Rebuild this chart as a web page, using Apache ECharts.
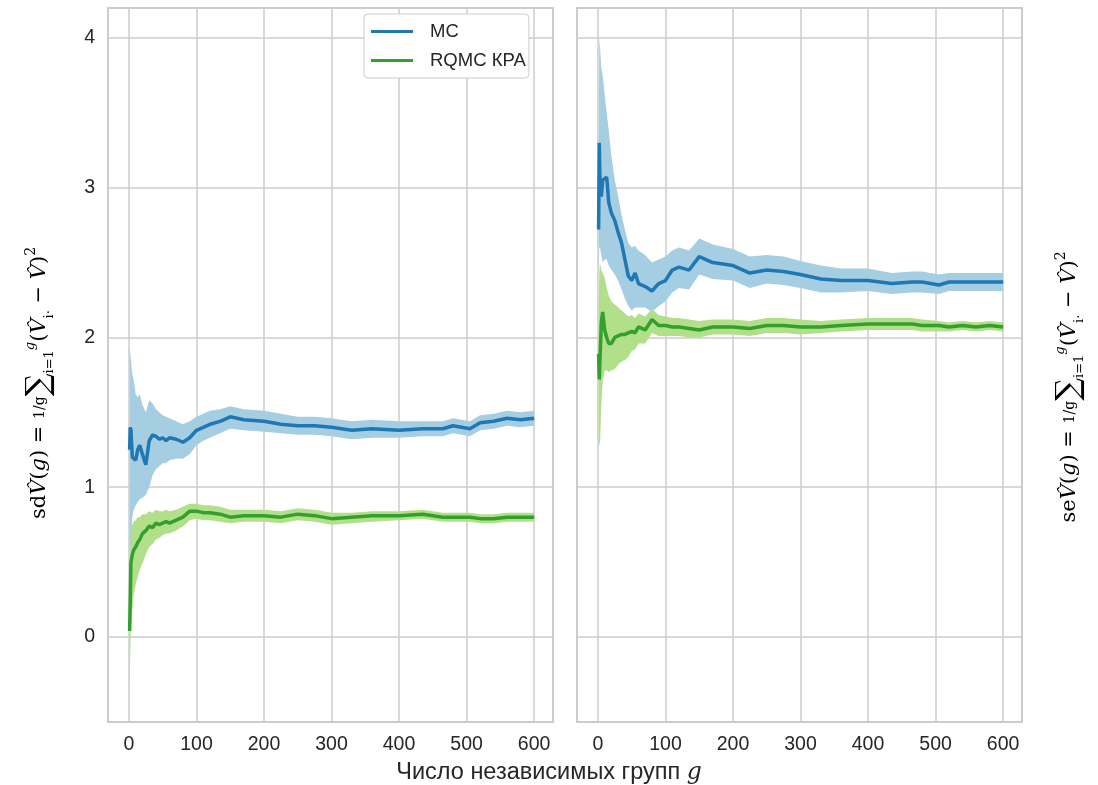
<!DOCTYPE html>
<html>
<head>
<meta charset="utf-8">
<script src="https://cdn.jsdelivr.net/npm/echarts@6/dist/echarts.min.js"></script>
<style>
  html, body { margin: 0; padding: 0; background: #fff; }
  #chart { width: 1098px; height: 785px; }
</style>
</head>
<body>
<div id="chart"></div>
<script>
// number of groups g (shared by all series)
const groups = [1, 2, 3, 5, 7, 10, 13, 16, 20, 25, 30, 35, 40, 45, 50, 55, 60, 70, 80, 90, 100, 110, 120, 135, 150, 170, 200, 225, 250, 275, 300, 330, 360, 400, 435, 465, 480, 505, 520, 540, 560, 580, 600]

// left panel (sd) -- MC
const sdMcMean = [1.25, 1.40, 1.38, 1.20, 1.19, 1.18, 1.25, 1.28, 1.22, 1.15, 1.31, 1.35, 1.34, 1.32, 1.33, 1.31, 1.33, 1.32, 1.30, 1.33, 1.38, 1.40, 1.42, 1.44, 1.47, 1.45, 1.44, 1.42, 1.41, 1.41, 1.40, 1.38, 1.39, 1.38, 1.39, 1.39, 1.41, 1.39, 1.43, 1.44, 1.46, 1.45, 1.46]
const sdMcHi   = [1.95, 1.90, 1.85, 1.75, 1.72, 1.62, 1.60, 1.62, 1.55, 1.50, 1.58, 1.56, 1.52, 1.50, 1.48, 1.47, 1.46, 1.44, 1.42, 1.44, 1.47, 1.49, 1.51, 1.52, 1.54, 1.52, 1.51, 1.49, 1.47, 1.47, 1.46, 1.44, 1.45, 1.44, 1.44, 1.44, 1.46, 1.44, 1.48, 1.49, 1.51, 1.50, 1.51]
const sdMcLo   = [0.60, 0.50, 0.62, 0.80, 0.85, 0.88, 0.90, 0.92, 0.93, 0.95, 1.00, 1.08, 1.12, 1.14, 1.16, 1.16, 1.18, 1.19, 1.19, 1.22, 1.28, 1.31, 1.33, 1.36, 1.39, 1.38, 1.37, 1.36, 1.35, 1.35, 1.34, 1.32, 1.33, 1.33, 1.34, 1.34, 1.36, 1.34, 1.38, 1.39, 1.41, 1.40, 1.41]
// left panel (sd) -- RQMC
const sdRqMean = [0.04, 0.25, 0.50, 0.55, 0.58, 0.60, 0.63, 0.65, 0.69, 0.71, 0.74, 0.73, 0.76, 0.75, 0.76, 0.77, 0.76, 0.78, 0.80, 0.84, 0.84, 0.83, 0.83, 0.82, 0.80, 0.81, 0.81, 0.80, 0.82, 0.81, 0.79, 0.80, 0.81, 0.81, 0.82, 0.80, 0.80, 0.80, 0.79, 0.79, 0.80, 0.80, 0.80]
const sdRqHi   = [0.30, 0.55, 0.72, 0.75, 0.77, 0.78, 0.80, 0.80, 0.82, 0.82, 0.84, 0.83, 0.85, 0.84, 0.84, 0.85, 0.84, 0.85, 0.87, 0.89, 0.89, 0.88, 0.88, 0.87, 0.85, 0.85, 0.85, 0.84, 0.86, 0.85, 0.83, 0.83, 0.84, 0.84, 0.85, 0.83, 0.83, 0.83, 0.82, 0.82, 0.83, 0.83, 0.83]
const sdRqLo   = [-0.37, -0.10, 0.05, 0.18, 0.28, 0.35, 0.40, 0.45, 0.49, 0.55, 0.60, 0.62, 0.65, 0.66, 0.68, 0.69, 0.69, 0.71, 0.74, 0.78, 0.79, 0.78, 0.78, 0.77, 0.76, 0.77, 0.77, 0.76, 0.78, 0.77, 0.75, 0.76, 0.77, 0.78, 0.79, 0.77, 0.77, 0.77, 0.76, 0.76, 0.77, 0.77, 0.77]

// right panel (se) -- MC
const seMcMean = [2.72, 3.30, 3.05, 2.94, 3.05, 3.06, 3.07, 2.90, 2.83, 2.78, 2.70, 2.63, 2.52, 2.41, 2.38, 2.43, 2.36, 2.34, 2.31, 2.36, 2.38, 2.45, 2.47, 2.45, 2.54, 2.50, 2.48, 2.43, 2.45, 2.44, 2.42, 2.39, 2.38, 2.38, 2.36, 2.37, 2.37, 2.35, 2.37, 2.37, 2.37, 2.37, 2.37]
const seMcHi   = [3.20, 4.00, 3.95, 3.80, 3.75, 3.62, 3.50, 3.38, 3.21, 3.05, 2.94, 2.82, 2.72, 2.63, 2.60, 2.61, 2.58, 2.55, 2.50, 2.52, 2.54, 2.58, 2.60, 2.58, 2.66, 2.62, 2.59, 2.54, 2.55, 2.54, 2.51, 2.48, 2.46, 2.46, 2.43, 2.44, 2.44, 2.42, 2.43, 2.43, 2.43, 2.43, 2.43]
const seMcLo   = [2.40, 2.60, 2.60, 2.55, 2.50, 2.52, 2.52, 2.48, 2.45, 2.42, 2.38, 2.32, 2.26, 2.21, 2.18, 2.20, 2.20, 2.20, 2.17, 2.21, 2.24, 2.30, 2.33, 2.32, 2.42, 2.39, 2.38, 2.33, 2.36, 2.35, 2.33, 2.30, 2.30, 2.31, 2.29, 2.30, 2.30, 2.29, 2.31, 2.31, 2.31, 2.31, 2.31]
// right panel (se) -- RQMC
const seRqMean = [1.89, 1.72, 1.72, 2.10, 2.17, 2.05, 2.00, 1.96, 1.96, 2.00, 2.01, 2.02, 2.02, 2.03, 2.04, 2.03, 2.07, 2.05, 2.12, 2.08, 2.08, 2.07, 2.07, 2.06, 2.05, 2.07, 2.07, 2.06, 2.08, 2.08, 2.07, 2.07, 2.08, 2.09, 2.09, 2.09, 2.08, 2.08, 2.07, 2.08, 2.07, 2.08, 2.07]
const seRqHi   = [2.20, 2.42, 2.50, 2.45, 2.43, 2.40, 2.33, 2.28, 2.24, 2.22, 2.20, 2.18, 2.16, 2.14, 2.15, 2.13, 2.16, 2.14, 2.19, 2.15, 2.14, 2.13, 2.13, 2.12, 2.11, 2.12, 2.12, 2.11, 2.13, 2.13, 2.12, 2.11, 2.12, 2.13, 2.13, 2.13, 2.12, 2.11, 2.10, 2.11, 2.10, 2.11, 2.10]
const seRqLo   = [1.30, 1.30, 1.27, 1.55, 1.70, 1.78, 1.78, 1.77, 1.78, 1.79, 1.82, 1.84, 1.85, 1.87, 1.91, 1.92, 1.96, 1.96, 2.03, 2.01, 2.01, 2.01, 2.01, 2.00, 2.00, 2.02, 2.02, 2.01, 2.03, 2.03, 2.02, 2.03, 2.04, 2.05, 2.05, 2.05, 2.04, 2.04, 2.04, 2.05, 2.04, 2.05, 2.04]

const MC_DARK = '#1f77b4', MC_LIGHT = '#a6cee3'
const RQ_DARK = '#33a02c', RQ_LIGHT = '#b2df8a'
const GRID_C = '#cccccc'
const TXT = '#262626'
const SANS = '"Liberation Sans", Arial, sans-serif'
const SERIF = '"DejaVu Serif", "Liberation Serif", serif'

const pairs = (ys) => groups.map((g, i) => [g, ys[i]])

// confidence band drawn as one polygon through the axis scales
const band = (gi, lo, hi, color) => ({
  type: 'custom', xAxisIndex: gi, yAxisIndex: gi, silent: true, clip: true,
  encode: { x: 0, y: [1, 2] },
  data: groups.map((g, i) => [g, lo[i], hi[i]]),
  renderItem: (params, api) => {
    if (params.dataIndexInside !== 0) return
    const n = params.dataInsideLength
    const top = [], bot = []
    for (let i = 0; i < n; i++) {
      top.push(api.coord([api.value(0, i), api.value(2, i)]))
      bot.push(api.coord([api.value(0, i), api.value(1, i)]))
    }
    return { type: 'polygon', shape: { points: top.concat(bot.reverse()) }, style: { fill: color } }
  }
})

const meanLine = (gi, name, ys, color) => ({
  name, type: 'line', xAxisIndex: gi, yAxisIndex: gi,
  showSymbol: false, symbol: 'none', silent: true,
  lineStyle: { width: 3.5, color }, itemStyle: { color },
  data: pairs(ys)
})

const xAx = (gi) => ({
  type: 'value', gridIndex: gi, min: -31, max: 628,
  axisLine: { show: false }, axisTick: { show: false },
  axisLabel: { color: TXT, fontSize: 19.5, fontFamily: SANS, margin: 13, showMinLabel: false, showMaxLabel: false },
  splitLine: { show: true, lineStyle: { color: GRID_C, width: 1.5 } }
})

const yAx = (gi) => ({
  type: 'value', gridIndex: gi, min: -0.568, max: 4.2,
  axisLine: { show: false }, axisTick: { show: false },
  axisLabel: { show: gi === 0, color: TXT, fontSize: 19.5, fontFamily: SANS, margin: 13, showMinLabel: false, showMaxLabel: false },
  splitLine: { show: true, lineStyle: { color: GRID_C, width: 1.5 } }
})

const mathRich = {
  r: { fontFamily: SERIF, fontSize: 21, color: TXT },
  it: { fontFamily: SERIF, fontSize: 21, fontStyle: 'italic', color: TXT },
  fr: { fontFamily: SERIF, fontSize: 14, color: TXT, verticalAlign: 'middle' },
  sum: { fontFamily: SERIF, fontSize: 32, color: TXT },
  sub: { fontFamily: SERIF, fontSize: 13, color: TXT, verticalAlign: 'bottom', padding: [10, 0, 0, 0] },
  sup: { fontFamily: SERIF, fontSize: 13, fontStyle: 'italic', color: TXT, verticalAlign: 'top' },
  sq: { fontFamily: SERIF, fontSize: 14, color: TXT, verticalAlign: 'top' }
}
const mathLabel = (pre) =>
  `{r|${pre}}{it|V̂}{r|(}{it|g}{r|) = }{fr|1/}{fr|g}{sum|∑}{sub|i=1}{sup|g}{r|(}{it|V̂}{sub|i·}{r| − }{it|V̂}{r|)}{sq|2}`

const option = {
  animation: false,
  backgroundColor: '#ffffff',
  grid: [
    { left: 108, top: 8, width: 445, height: 714, show: true, borderColor: GRID_C, borderWidth: 2, backgroundColor: '#fff' },
    { left: 577, top: 8, width: 445, height: 714, show: true, borderColor: GRID_C, borderWidth: 2, backgroundColor: '#fff' }
  ],
  xAxis: [xAx(0), xAx(1)],
  yAxis: [yAx(0), yAx(1)],
  title: {
    text: 'Число независимых групп {g|g}',
    left: 'center', top: 756,
    textStyle: {
      fontFamily: SANS, fontSize: 23.5, fontWeight: 'normal', color: TXT,
      rich: { g: { fontFamily: SERIF, fontStyle: 'italic', fontSize: 23.5, color: TXT } }
    }
  },
  legend: {
    data: ['MC', 'RQMC КРА'],
    orient: 'vertical', left: 364, top: 14,
    icon: 'rect', itemWidth: 42, itemHeight: 3, itemGap: 10,
    padding: [8, 3, 8, 7],
    backgroundColor: '#fff', borderColor: GRID_C, borderWidth: 1, borderRadius: 4,
    textStyle: { fontFamily: SANS, fontSize: 18.5, color: TXT, padding: [0, 0, 0, 12] }
  },
  graphic: [
    {
      type: 'text', x: 40, y: 383, rotation: Math.PI / 2,
      style: { text: mathLabel('sd'), rich: mathRich, align: 'center', verticalAlign: 'middle' }
    },
    {
      type: 'text', x: 1070, y: 387, rotation: Math.PI / 2,
      style: { text: mathLabel('se'), rich: mathRich, align: 'center', verticalAlign: 'middle' }
    }
  ],
  series: [
    band(0, sdMcLo, sdMcHi, MC_LIGHT),
    meanLine(0, 'MC', sdMcMean, MC_DARK),
    band(0, sdRqLo, sdRqHi, RQ_LIGHT),
    meanLine(0, 'RQMC КРА', sdRqMean, RQ_DARK),
    band(1, seMcLo, seMcHi, MC_LIGHT),
    meanLine(1, 'MC', seMcMean, MC_DARK),
    band(1, seRqLo, seRqHi, RQ_LIGHT),
    meanLine(1, 'RQMC КРА', seRqMean, RQ_DARK)
  ]
}

const chart = echarts.init(document.getElementById('chart'))
chart.setOption(option)
window.addEventListener('resize', () => chart.resize())
</script>
</body>
</html>
